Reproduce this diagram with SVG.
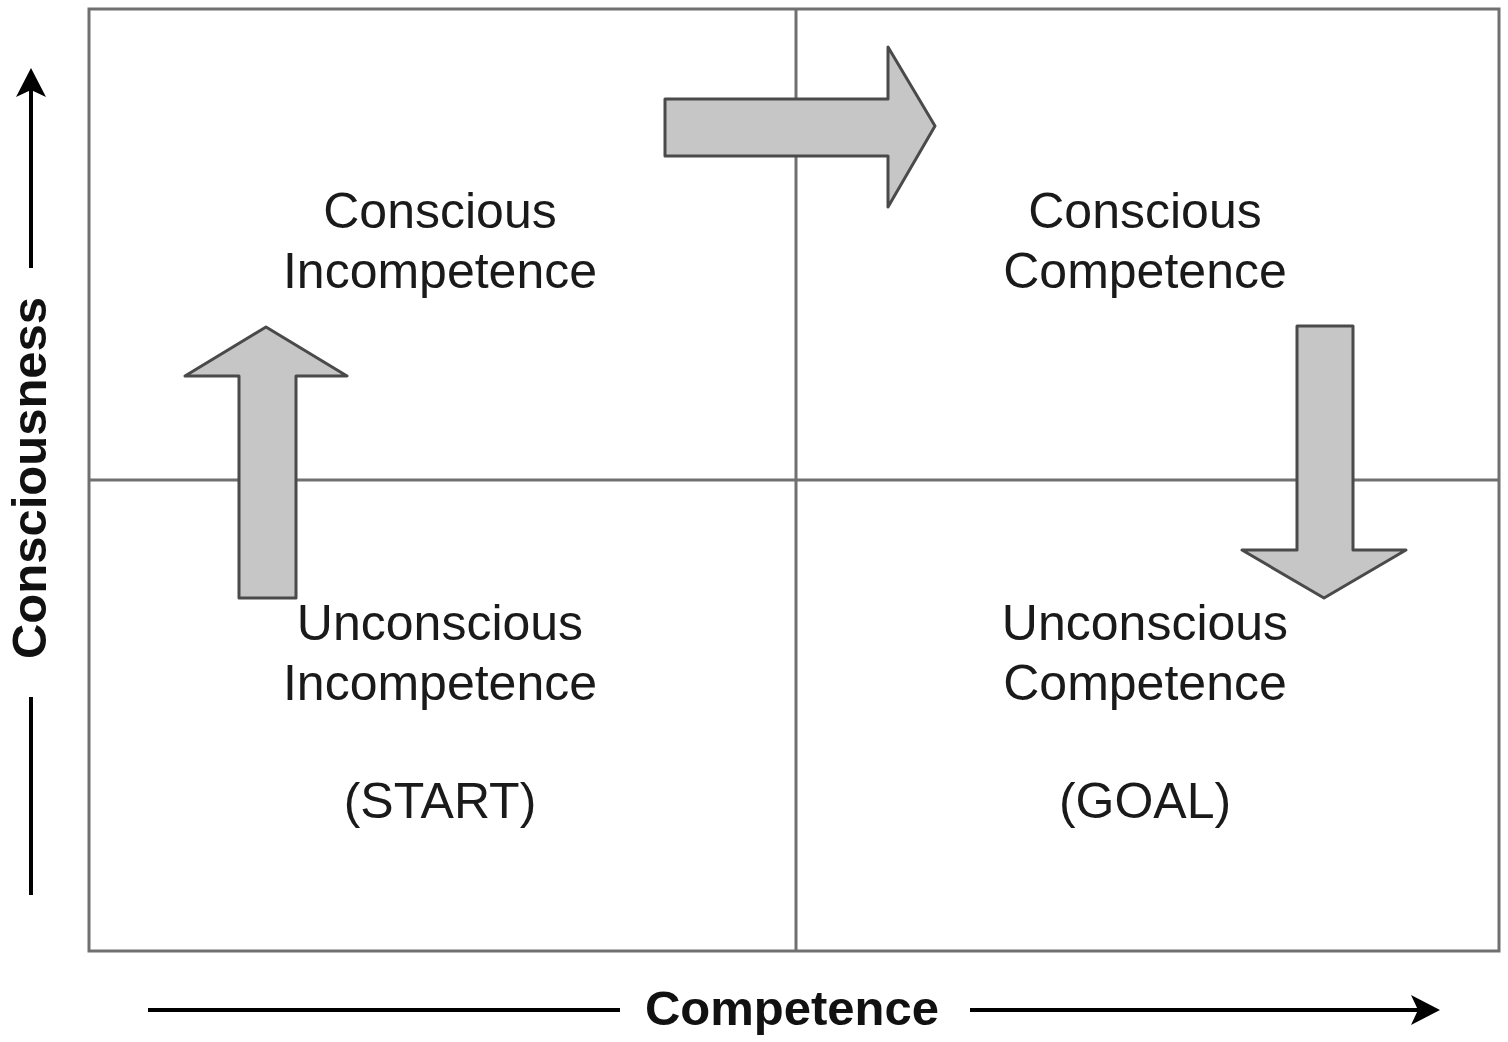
<svg xmlns="http://www.w3.org/2000/svg" width="1508" height="1042" viewBox="0 0 1508 1042">
<style>
.lbl{font-family:"Liberation Sans",Arial,sans-serif;font-size:50px;fill:#1a1a1a;text-anchor:middle}
.ax{font-family:"Liberation Sans",Arial,sans-serif;font-size:49px;font-weight:bold;fill:#111;text-anchor:middle}
.grid{stroke:#707070;stroke-width:3;fill:none}
.blk{fill:#c6c6c6;stroke:#4a4a4a;stroke-width:3;stroke-linejoin:round}
.axl{stroke:#000;stroke-width:4;fill:none}
</style>
<g id="grid">
<rect x="89" y="9" width="1410" height="942" class="grid" stroke-width="4"/>
<line x1="796" y1="9" x2="796" y2="951" class="grid"/>
<line x1="89" y1="480" x2="1499" y2="480" class="grid"/>
</g>
<g id="connectors">
<path id="arrow-right" class="blk" d="M665,99 L888,99 L888,47 L935,126 L888,207 L888,156 L665,156 Z"/>
<path id="arrow-up" class="blk" d="M239,598 L239,376 L185,376 L266,327 L347,376 L296,376 L296,598 Z"/>
<path id="arrow-down" class="blk" d="M1297,326 L1353,326 L1353,550 L1406,550 L1324,598 L1242,550 L1297,550 Z"/>
</g>
<g id="axis-y">
<line x1="31" y1="895" x2="31" y2="697" class="axl"/>
<line x1="31" y1="268" x2="31" y2="78" class="axl"/>
<path d="M31,68 L46,97 L31,90 L16,97 Z" fill="#000"/>
<text class="ax" transform="translate(46,478) rotate(-90)">Consciousness</text>
</g>
<g id="axis-x">
<line x1="148" y1="1010" x2="620" y2="1010" class="axl"/>
<line x1="970" y1="1010" x2="1430" y2="1010" class="axl"/>
<path d="M1440,1010 L1411,995 L1418,1010 L1411,1025 Z" fill="#000"/>
<text class="ax" x="792" y="1025">Competence</text>
</g>
<g id="q-conscious-incompetence">
<text class="lbl" x="440" y="228">Conscious</text>
<text class="lbl" x="440" y="288">Incompetence</text>
</g>
<g id="q-conscious-competence">
<text class="lbl" x="1145" y="228">Conscious</text>
<text class="lbl" x="1145" y="288">Competence</text>
</g>
<g id="q-unconscious-incompetence">
<text class="lbl" x="440" y="640">Unconscious</text>
<text class="lbl" x="440" y="700">Incompetence</text>
<text class="lbl" x="440" y="818">(START)</text>
</g>
<g id="q-unconscious-competence">
<text class="lbl" x="1145" y="640">Unconscious</text>
<text class="lbl" x="1145" y="700">Competence</text>
<text class="lbl" x="1145" y="818">(GOAL)</text>
</g>
</svg>
